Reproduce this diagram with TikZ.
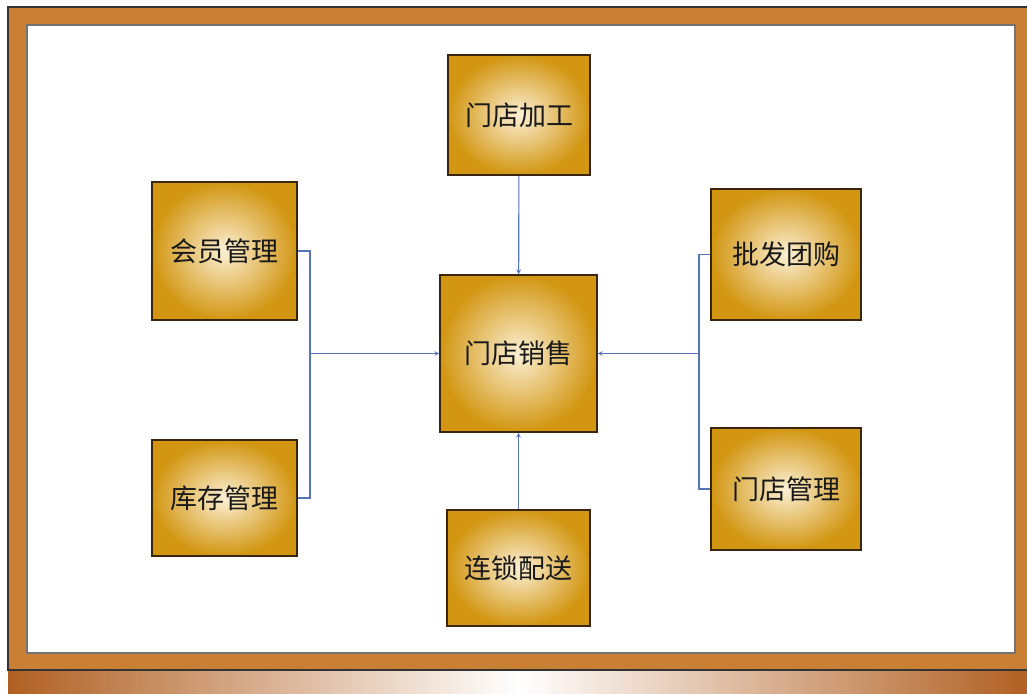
\documentclass[tikz,border=0pt]{standalone}
\usepackage{fontspec}
\newfontfamily\cjk{Noto Sans CJK SC}
\usepackage{tikz}
\usetikzlibrary{arrows,positioning}

\definecolor{framebrown}{RGB}{201,128,52}
\definecolor{stripbrown}{RGB}{176,96,34}
\definecolor{boxgold}{RGB}{210,150,18}
\definecolor{boxcream}{RGB}{252,240,212}
\definecolor{linkblue}{RGB}{88,116,184}
\definecolor{edgebrown}{RGB}{58,38,12}

\tikzset{
	box/.style={shape=rectangle, draw=edgebrown, line width=1.6pt, inner color=boxcream, outer color=boxgold, font=\cjk\fontsize{27}{30}\selectfont, text=black!90},
	link/.style={draw=linkblue, line width=1.1pt},
	>=stealth
}

\begin{document}
\begin{tikzpicture}[x=1pt,y=-1pt]
	\useasboundingbox (0,0) rectangle (1027,693);
	% frame
	\fill[framebrown, draw=black!80, line width=1.2pt] (8,7) rectangle (1029,670);
	\fill[white, draw=black!55, line width=1.2pt] (27,25) rectangle (1015,653);
	\shade[left color=stripbrown, right color=white] (8,671) rectangle (518,693);
	\shade[left color=white, right color=stripbrown] (518,671) rectangle (1029,693);
	% boxes
	\path (519,115) node (jg) [box, minimum width=142pt, minimum height=120pt] {门店加工}
		  (224.5,251) node (hy) [box, minimum width=145pt, minimum height=138pt] {会员管理}
		  (518.5,353.5) node (xs) [box, minimum width=157pt, minimum height=157pt] {门店销售}
		  (786,254.5) node (pf) [box, minimum width=150pt, minimum height=131pt] {批发团购}
		  (224.5,498) node (kc) [box, minimum width=145pt, minimum height=116pt] {库存管理}
		  (518.5,568) node (ls) [box, minimum width=143pt, minimum height=116pt] {连锁配送}
		  (786,489) node (md) [box, minimum width=150pt, minimum height=122pt] {门店管理};
	\coordinate (lj) at (310,353.5);
	\coordinate (rj) at (699,353.5);
	\draw[link] (hy.east) -| (lj);
	\draw[link] (kc.east) -| (lj);
	\draw[link,->] (lj) -- (xs);
	\draw[link] (pf.west) -| (rj);
	\draw[link] (md.west) -| (rj);
	\draw[link,->] (rj) -- (xs);
	\draw[link,->] (jg) -- (xs);
	\draw[link,->] (ls) -- (xs);
\end{tikzpicture}
\end{document}
